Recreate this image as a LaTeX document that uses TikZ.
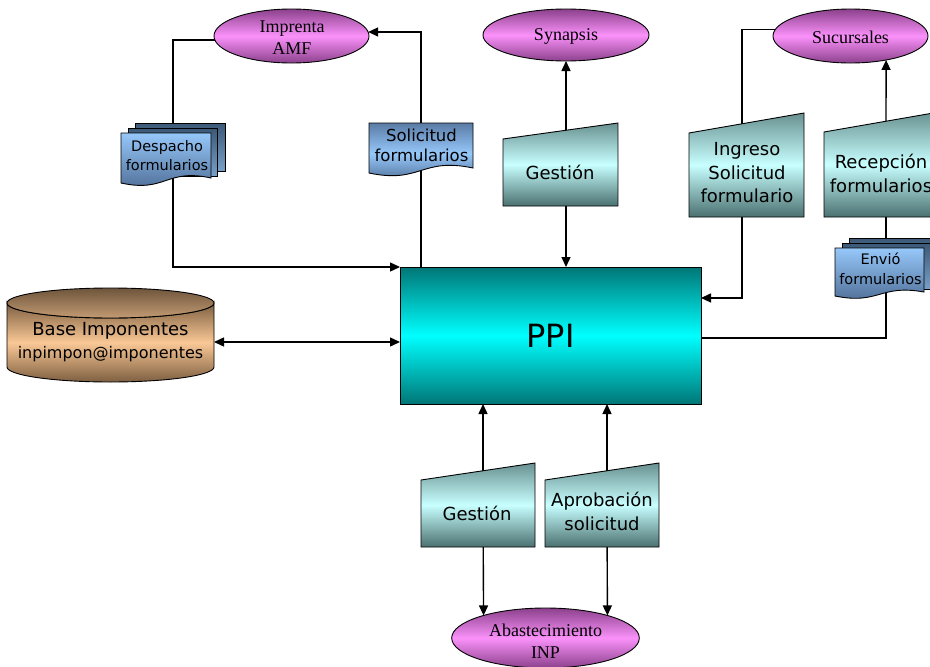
\documentclass[tikz,border=0pt]{standalone}
\usepackage{fontspec}
\setmainfont{DejaVu Sans}
\newfontfamily\serifface{Liberation Serif}
\usetikzlibrary{arrows.meta,shapes.geometric}
\pgfdeclarelayer{background}
\pgfsetlayers{background,main}

\definecolor{ppidark}{RGB}{0,118,118}
\definecolor{ppilight}{RGB}{0,255,255}
\definecolor{optop}{RGB}{105,145,145}
\definecolor{opmid}{RGB}{200,255,255}
\definecolor{opbot}{RGB}{75,112,112}
\definecolor{ovdark}{RGB}{140,65,140}
\definecolor{ovlight}{RGB}{250,145,250}
\definecolor{doclight}{RGB}{150,200,250}
\definecolor{docdark}{RGB}{75,105,145}
\definecolor{sheetdark}{RGB}{60,88,118}
\definecolor{sheetlight}{RGB}{120,160,200}
\definecolor{dbdark}{RGB}{125,95,65}
\definecolor{dblight}{RGB}{250,200,150}
\definecolor{dbtop}{RGB}{110,85,60}
\definecolor{dbtopl}{RGB}{195,155,115}

\begin{document}
\begin{tikzpicture}[x=1pt,y=-1pt,
  outline/.style={draw=black, line width=0.9pt},
  conn/.style={line width=1.4pt, draw=black},
  arr/.style={conn, -{Triangle[length=10pt,width=9pt]}},
  biarr/.style={conn, {Triangle[length=10pt,width=9pt]}-{Triangle[length=10pt,width=9pt]}},
  oval/.style={ellipse, outline, inner sep=0pt, outer sep=0pt,
    top color=ovdark, bottom color=ovdark, middle color=ovlight},
  ovaltext/.style={font=\serifface\fontsize{18}{21.5}\selectfont, align=center, inner sep=0pt},
  manual/.style={outline, top color=optop, bottom color=opbot, middle color=opmid},
  optext/.style={font=\fontsize{18}{23.5}\selectfont, align=center, inner sep=0pt},
  sheet/.style={outline, top color=sheetdark, bottom color=sheetlight},
  doc/.style={outline, top color=doclight, bottom color=docdark},
  singledoc/.style={outline, top color=docdark!80!doclight, bottom color=docdark, middle color=doclight},
  doctext/.style={font=\fontsize{14.5}{19}\selectfont, align=center, inner sep=0pt},
  ppibox/.style={rectangle, outline, inner sep=0pt, outer sep=0pt,
    top color=ppidark, bottom color=ppidark, middle color=ppilight,
    font=\fontsize{32}{36}\selectfont},
  dbbody/.style={outline, top color=dbdark, bottom color=dbdark, middle color=dblight},
  dbcap/.style={outline, top color=dbtop, bottom color=dbtopl}
]
\useasboundingbox (0,0) rectangle (930,667);
\begin{pgfonlayer}{background}
  \fill[white] (0,0) rectangle (930,667);
\end{pgfonlayer}
\clip (0,0) rectangle (930,667);

% external entities
\node[oval, minimum width=155pt, minimum height=54pt] (imp) at (291.5,36) {};
\node[ovaltext] (imp-t) at (292,37.5) {Imprenta\\AMF};
\node[oval, minimum width=166pt, minimum height=52pt] (syn) at (566,35) {};
\node[ovaltext] (syn-t) at (566,36) {Synapsis};
\node[oval, minimum width=155pt, minimum height=54pt] (suc) at (850.5,36) {};
\node[ovaltext] (suc-t) at (850.5,37) {Sucursales};
\node[oval, minimum width=187.6pt, minimum height=60pt] (abs) at (545.5,638) {};
\node[ovaltext] (abs-t) at (545.5,641) {Abastecimiento\\INP};

% central process
\node[ppibox, minimum width=301pt, minimum height=137pt] (ppi) at (550.5,335.5) {PPI};

% database
\path[dbbody] (7,303) -- (7,367)
  arc[start angle=180, end angle=0, x radius=103.5, y radius=15] -- (214,303)
  arc[start angle=0, end angle=180, x radius=103.5, y radius=15] -- cycle;
\path[dbcap] (110.5,303) ellipse [x radius=103.5, y radius=15];
\node[inner sep=0pt, outer sep=0pt, minimum width=207pt, minimum height=60pt,
  align=center, font=\fontsize{18}{23}\selectfont] (base) at (110.5,342)
  {Base Imponentes\\{\fontsize{16}{23}\selectfont inpimpon@imponentes}};

% manual operations
\path[manual] (503,139) -- (618,123) -- (618,206) -- (503,206) -- cycle;
\node[optext] (g1) at (560,172) {Gestión};
\path[manual] (689,133) -- (804,113) -- (804,217) -- (689,217) -- cycle;
\node[optext] (ing) at (747,173) {Ingreso\\Solicitud\\formulario};
\path[manual] (824,132) -- (939,112) -- (939,217) -- (824,217) -- cycle;
\node[optext] (rec) at (881,173.5) {Recepción\\formularios};
\path[manual] (421,480) -- (535,463) -- (535,547) -- (421,547) -- cycle;
\node[optext] (g2) at (477,513) {Gestión};
\path[manual] (545,480) -- (659,463) -- (659,547) -- (545,547) -- cycle;
\node[optext] (apr) at (602,511.5) {Aprobación\\solicitud};

% documents
\path[sheet] (135,123) rectangle (225,171);
\path[sheet] (128,128) rectangle (217,176);
\path[doc] (121,133) -- (211,133) -- (211,178)
  .. controls (166,168) and (166,193) .. (121,183) -- cycle;
\node[doctext] (dsp) at (167,155.5) {Despacho\\formularios};

\path[singledoc] (369,123) -- (473,123) -- (473,168)
  .. controls (421,157) and (421,184) .. (369,173) -- cycle;
\node[doctext, font=\fontsize{16.5}{20}\selectfont] (sol) at (421.5,145) {Solicitud\\formularios};

\path[sheet] (849,238) rectangle (938,284);
\path[sheet] (842,243) rectangle (931,289);
\path[doc] (835,248) -- (924,248) -- (924,292)
  .. controls (879.5,284) and (879.5,305) .. (835,296) -- cycle;
\node[doctext, font=\fontsize{14.5}{20}\selectfont] (env) at (880.5,269) {Envió\\formularios};

% connector axes
\coordinate (dsp-axis) at (173,155);
\coordinate (sol-axis) at (421,145);
\coordinate (g1-axis) at (566,170);
\coordinate (ing-axis) at (742,170);
\coordinate (rec-axis) at (886,170);
\coordinate (g2-axis) at (483,513);
\coordinate (apr-axis) at (607,513);

\begin{pgfonlayer}{background}
  \draw[arr] (imp.183.5) -| (dsp-axis) |- (ppi.north west);
  \draw[arr] (sol-axis |- ppi.north) |- (imp.3.75);
  \draw[arr] (g1-axis) -- (syn.south);
  \draw[arr] (g1-axis) -- (g1-axis |- ppi.north);
  \draw[arr] (suc.175.5) -| (ing-axis) |- (ppi.14);
  \draw[arr] (rec-axis) -- (suc.-34);
  \draw[conn] (rec-axis) |- (ppi.-1.5);
  \draw[biarr] (base.east) -- (base.east -| ppi.west);
  \draw[arr] (g2-axis) -- (g2-axis |- ppi.south);
  \draw[arr] (g2-axis) -- (abs.160.3);
  \draw[arr] (apr-axis) -- (apr-axis |- ppi.south);
  \draw[arr] (apr-axis) -- (abs.20.2);
\end{pgfonlayer}
\end{tikzpicture}
\end{document}
